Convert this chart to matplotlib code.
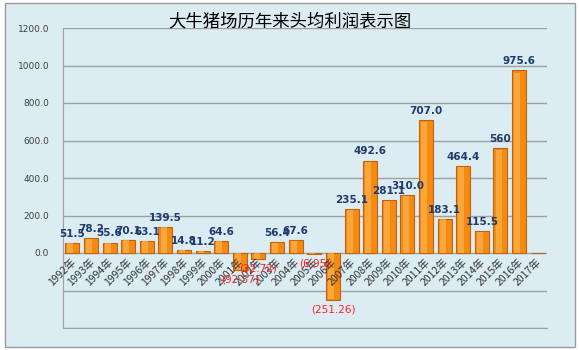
import numpy as np
import matplotlib.pyplot as plt
from matplotlib.patches import Rectangle

plt.rcParams['font.family'] = ['Noto Sans CJK SC', 'DejaVu Sans']

# 历年头均利润
years = [str(y) + '年' for y in range(1992, 2018)]
profit = [51.5, 78.2, 55.6, 70.1, 63.1, 139.5, 14.8, 11.2, 64.6, -92.57, -32.72,
          56.4, 67.6, -6.95, -251.26, 235.1, 492.6, 281.1, 310.0, 707.0, 183.1,
          464.4, 115.5, 560, 975.6, np.nan]
labels = ['51.5', '78.2', '55.6', '70.1', '63.1', '139.5', '14.8', '11.2', '64.6',
          '(92.57)', '(32.72)', '56.4', '67.6', '(6.95)', '(251.26)', '235.1',
          '492.6', '281.1', '310.0', '707.0', '183.1', '464.4', '115.5', '560',
          '975.6', '']
yticks = [-400, -200, 0, 200, 400, 600, 800, 1000, 1200]

bg = '#dbecf3'
fig = plt.figure(figsize=(5.79, 3.5), dpi=100)
fig.patch.set_facecolor('white')
fig.patches.append(Rectangle((5 / 579, 1 - 347 / 350), 570 / 579, 344 / 350,
                             transform=fig.transFigure, facecolor=bg,
                             edgecolor='#9a9a9a', linewidth=1, zorder=-10))

ax = fig.add_axes([63 / 579, 1 - 328 / 350, 484 / 579, 300 / 350])
ax.set_facecolor(bg)
x = np.arange(len(years))
vals = np.array(profit, dtype=float)
ax.bar(x, np.nan_to_num(vals), width=0.75, color='#f58a12', edgecolor='#c0620e',
       linewidth=0.8, zorder=3)
# 高光
ax.bar(x - 0.1, np.nan_to_num(vals) * 0.985, width=0.32, color='#fdb24c',
       linewidth=0, zorder=3, alpha=0.7)

ax.set_xlim(-0.5, len(years) - 0.5)
ax.set_ylim(-400, 1200)
ax.set_yticks(yticks)
ax.set_yticklabels(['' if t < 0 else '%.1f' % t for t in yticks],
                   fontsize=6.5, color='#404040', family='DejaVu Sans')
ax.tick_params(axis='y', length=0, pad=10)
ax.set_xticks([])
ax.grid(axis='y', color='#a0a0a0', linewidth=1, zorder=1)
for s in ['top', 'right']:
    ax.spines[s].set_visible(False)
ax.spines['left'].set_color('#a0a0a0')
ax.spines['bottom'].set_color('#a0a0a0')

for i, (v, lab) in enumerate(zip(vals, labels)):
    ax.annotate(years[i], (i, 0), xytext=(4, -3), textcoords='offset points',
                rotation=45, ha='right', va='top', fontsize=7.5, color='#333333',
                zorder=5)
    if np.isnan(v):
        continue
    if v >= 0:
        ax.annotate(lab, (i, v), xytext=(0, 3), textcoords='offset points',
                    ha='center', va='bottom', fontsize=7.5, color='#1f3a6b',
                    fontweight='bold', family='DejaVu Sans', zorder=6)
    else:
        ax.annotate(lab, (i, v), xytext=(0, -3), textcoords='offset points',
                    ha='center', va='top', fontsize=7.5, color='#ff2020',
                    family='DejaVu Sans', zorder=6)

fig.text(0.5, 1 - 21 / 350, '大牛猪场历年来头均利润表示图', ha='center', va='center',
         fontsize=12.5, color='black', fontweight='medium')

fig.savefig('out.png', dpi=100, facecolor=fig.get_facecolor())
